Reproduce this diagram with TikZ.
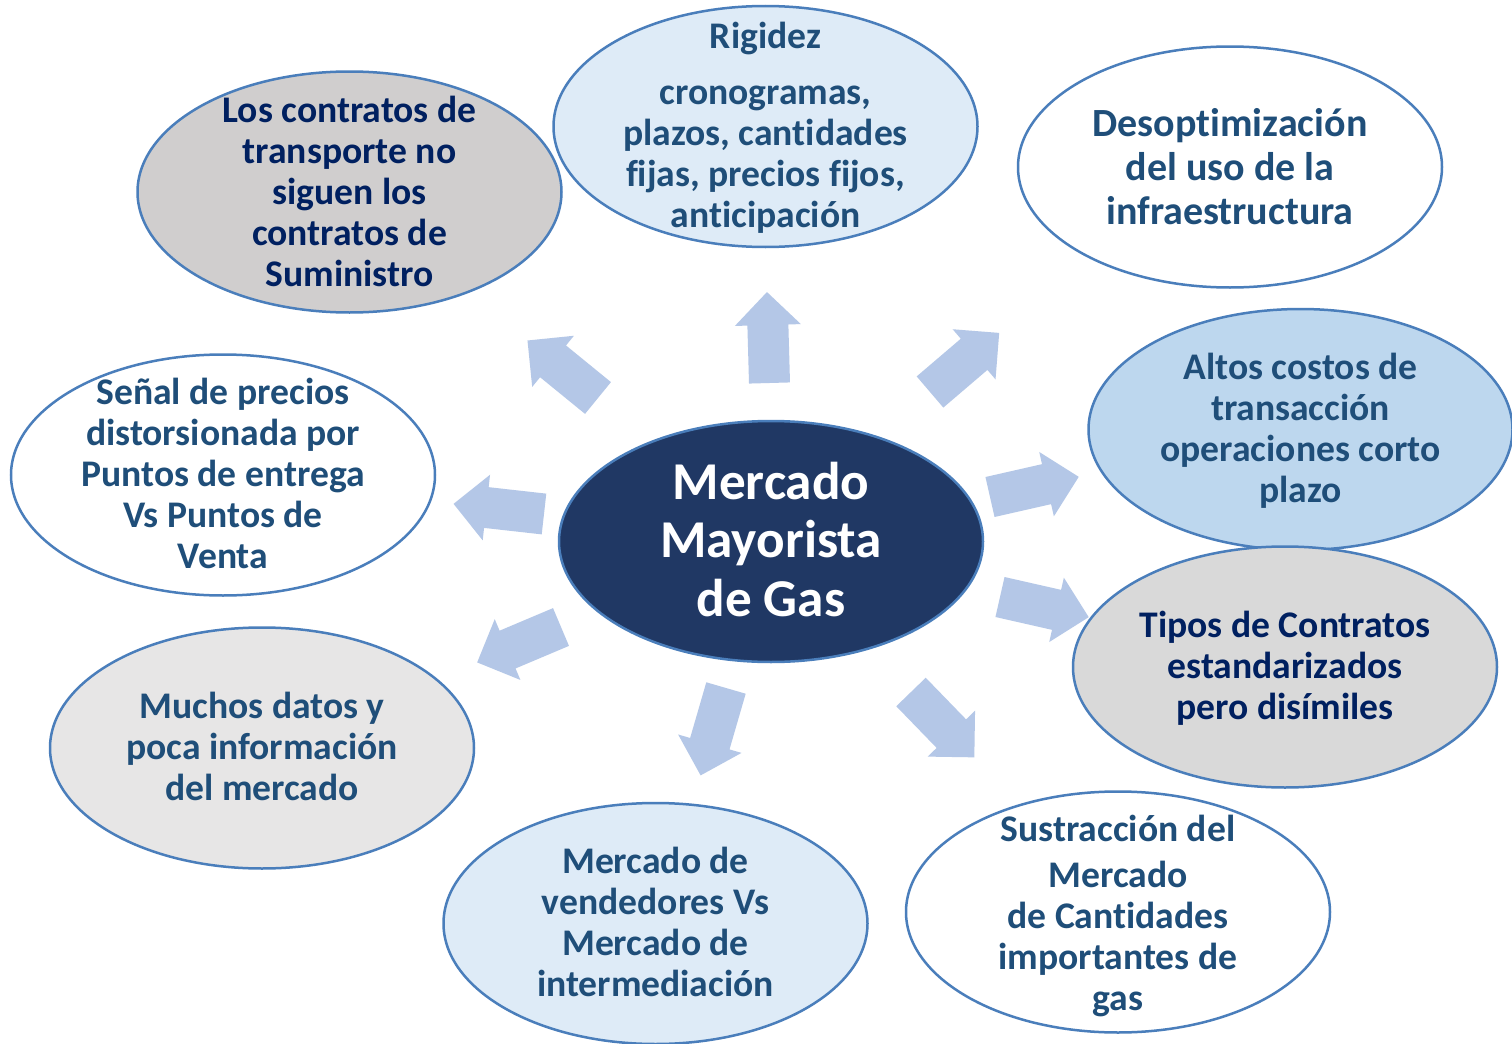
\documentclass[tikz,border=0pt]{standalone}
\usepackage{fontspec}
\setmainfont{Carlito}[Ligatures=NoCommon]
\usetikzlibrary{shapes.geometric}
\definecolor{navy}{RGB}{32,56,100}
\definecolor{txtA}{RGB}{31,78,121}
\definecolor{txtB}{RGB}{0,32,96}
\definecolor{edgeblue}{RGB}{74,126,187}
\definecolor{arrowc}{RGB}{180,199,231}
\definecolor{lblue}{RGB}{222,235,247}
\definecolor{mblue}{RGB}{189,215,238}
\definecolor{grayA}{RGB}{208,206,206}
\definecolor{grayB}{RGB}{217,217,217}
\definecolor{grayC}{RGB}{231,230,230}
\newcommand{\gasarrow}[4]{%
  \coordinate (#1) at (#2,#3);
  \fill[arrowc, shift={(#1)}, rotate=#4] (0,-20.5) -- (58,-20.5) -- (58,-33) -- (91,0) -- (58,33) -- (58,20.5) -- (0,20.5) -- cycle;}
\begin{document}
\begin{tikzpicture}[x=0.5pt,y=-0.5pt,
  bubble/.style={ellipse, draw=edgeblue, line width=1.25pt, minimum width=212pt, minimum height=120.5pt, inner sep=0pt},
  txt/.style={align=center, text=txtA, inner sep=0pt, yshift=-1.5pt, font=\fontsize{18.8}{20.5}\selectfont\bfseries},
  txtdark/.style={txt, text=txtB},
  centertxt/.style={align=center, text=white, inner sep=0pt, yshift=-2.4pt, font=\fontsize{26.6}{29.2}\selectfont\bfseries}]
\useasboundingbox (0,0) rectangle (1512,1044);
\fill[white] (0,0) rectangle (1512,1044);

% block arrows
\gasarrow{a1}{769.5}{383}{91.6}
\gasarrow{a2}{598}{398}{140.8}
\gasarrow{a3}{930}{392}{40.5}
\gasarrow{a4}{990}{497}{12.8}
\gasarrow{a5}{1000}{597}{-12.8}
\gasarrow{a6}{911}{692}{-45.9}
\gasarrow{a7}{726}{688}{-106.2}
\gasarrow{a8}{561}{627}{-157.1}
\gasarrow{a9}{544}{514}{173.6}

% ellipses
\node[bubble, fill=grayA] (e1) at (349.5,192) {};
\node[txtdark, yshift=-0.8pt] (t1) at (e1) {\strut Los contratos de\\transporte no\\siguen los\\contratos de\\Suministro\strut};

\node[bubble, fill=lblue] (e2) at (765.5,126.5) {};
\node[txt] (t2) at (e2) {\strut Rigidez\\[7.5pt]cronogramas,\\plazos, cantidades\\fijas, precios fijos,\\anticipación\strut};

\node[bubble, fill=white] (e3) at (1230,167) {};
\node[txt, yshift=-0.8pt, font=\fontsize{20}{22}\selectfont\bfseries] (t3) at (e3) {\strut Desoptimización\\del uso de la\\infraestructura\strut};

\node[bubble, fill=mblue] (e4) at (1300.5,429.5) {};
\node[txt] (t4) at (e4) {\strut Altos costos de\\transacción\\operaciones corto\\plazo\strut};

\node[bubble, fill=grayB] (e5) at (1285,667) {};
\node[txtdark] (t5) at (e5) {\strut Tipos de Contratos\\estandarizados\\pero disímiles\strut};

\node[bubble, fill=white] (e6) at (1118,912) {};
\node[txt, yshift=-1.5pt] (t6) at (e6) {\strut Sustracción del\\[2.5pt]Mercado\\de Cantidades\\importantes de\\gas\strut};

\node[bubble, fill=lblue] (e7) at (655.5,923.5) {};
\node[txt] (t7) at (e7) {\strut Mercado de\\vendedores Vs\\Mercado de\\intermediación\strut};

\node[bubble, fill=grayC] (e8) at (262,748) {};
\node[txt] (t8) at (e8) {\strut Muchos datos y\\poca información\\del mercado\strut};

\node[bubble, fill=white] (e9) at (223,475) {};
\node[txt] (t9) at (e9) {\strut Señal de precios\\distorsionada por\\Puntos de entrega\\Vs Puntos de\\Venta\strut};

% center
\node[bubble, fill=navy] (c) at (771,541.5) {};
\node[centertxt] (ct) at (c) {\strut Mercado\\Mayorista\\de Gas\strut};
\end{tikzpicture}
\end{document}
